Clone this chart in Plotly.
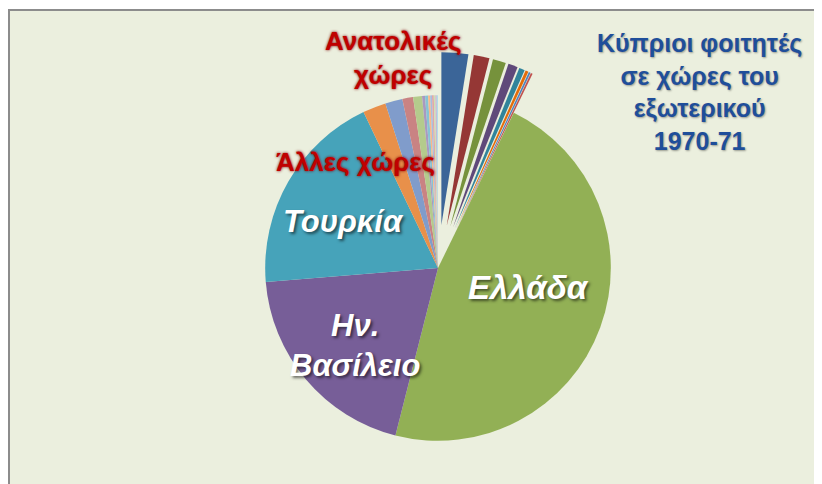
import plotly.graph_objects as go

# Slice values in degrees of the circle, clockwise from 12 o'clock
labels = [
    "Ανατ. 1", "Ανατ. 2", "Ανατ. 3", "Ανατ. 4", "Ανατ. 5", "Ανατ. 6", "Ανατ. 7", "Ανατ. 8",
    "Ελλάδα", "Ην. Βασίλειο", "Τουρκία",
    "Άλλη 1", "Άλλη 2", "Άλλη 3", "Άλλη 4", "Άλλη 5", "Άλλη 6",
    "Άλλη 7", "Άλλη 8", "Άλλη 9", "Άλλη 10", "Άλλη 11", "Άλλη 12",
]
values = [
    9.0, 5.3, 4.4, 3.2, 1.9, 1.0, 0.6, 0.6,
    168, 71, 69,
    7.8, 5.8, 3.6, 3.0, 1.0, 1.0,
    0.7, 0.6, 0.6, 0.5, 0.5, 0.4,
]
colors = [
    "#3B6598", "#953735", "#76923C", "#5F497A", "#31849B", "#E46C0A", "#4F81BD", "#C0504D",
    "#92B055", "#775E98", "#46A3BA",
    "#E8904A", "#809CCB", "#C98383", "#B4CB8C", "#A999C0", "#86C3D5",
    "#F9B88A", "#A8BDE0", "#E0A8A8", "#CFE0B0", "#C6B8D8", "#B0DDE8",
]
n_east = 8
pulls = [0.25] * n_east + [0] * (len(values) - n_east)

# page body has an 8px margin, so the figure is a bit smaller than the window
OFF = 8
W, H = 822 - OFF, 484 - OFF
BG = "#EBEFDE"


def px(x, y):
    # page pixel -> paper fraction
    return (x - OFF) / W, 1 - (y - OFF) / H


cx, cy = 438, 268
half = 484 - cy  # largest half-size that still fits below the centre
x0, _ = px(cx - half, 0)
x1, _ = px(cx + half, 0)
_, ytop = px(0, cy - half)

fig = go.Figure()
fig.add_trace(go.Pie(
    labels=labels,
    values=values,
    sort=False,
    direction="clockwise",
    rotation=0,
    pull=pulls,
    marker=dict(colors=colors, line=dict(width=0)),
    textinfo="none",
    hoverinfo="label+percent",
    showlegend=False,
    domain=dict(x=[x0, x1], y=[0, ytop]),
))

# frame of the chart area
fx, fy = px(7, 10)
fig.add_shape(type="rect", xref="paper", yref="paper", layer="below",
              x0=max(fx, 1 / W), x1=1.02, y0=-0.02, y1=fy,
              fillcolor=BG, line=dict(color="#8C8C8C", width=2))

white = dict(family="Liberation Sans", color="white", weight="bold", style="italic",
             shadow="2px 2px 3px rgba(0,0,0,0.55)")
red = dict(family="Liberation Sans", color="#C00000", weight="bold",
           shadow="0px 0px 3px #7a0000")

notes = [
    ("Ελλάδα", 528, 287, 33, white),
    ("Τουρκία", 343, 222, 31, white),
    ("Ην.<br>Βασίλειο", 355, 345, 31, white),
    ("Ανατολικές<br>χώρες", 393, 58, 26, red),
    ("Άλλες χώρες", 355, 162, 26, red),
]
for text, x, y, size, f in notes:
    xx, yy = px(x, y)
    fig.add_annotation(x=xx, y=yy, xref="paper", yref="paper", text=text,
                       showarrow=False, align="center",
                       xanchor="center", yanchor="middle",
                       font=dict(size=size, **f))

tx, ty = px(699, 92)
fig.add_annotation(x=tx, y=ty, xref="paper", yref="paper",
                   text="Κύπριοι φοιτητές<br>σε χώρες του<br>εξωτερικού<br>1970-71",
                   showarrow=False, align="center",
                   xanchor="center", yanchor="middle",
                   font=dict(family="Liberation Sans", size=25, color="#1F4E9A",
                             weight="bold", shadow="1px 1px 2px rgba(0,0,0,0.35)"))

fig.update_layout(
    width=W, height=H,
    margin=dict(l=0, r=0, t=0, b=0),
    paper_bgcolor="white",
    plot_bgcolor="white",
)

fig.write_html("out.html")
